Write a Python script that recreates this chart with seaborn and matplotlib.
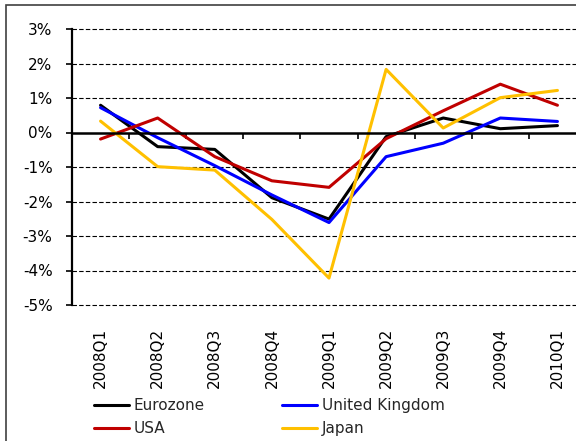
import numpy as np
import pandas as pd
import matplotlib
matplotlib.use("Agg")
import matplotlib.pyplot as plt
import seaborn as sns
from matplotlib.patches import Rectangle
from matplotlib.ticker import FuncFormatter, FixedLocator, NullFormatter

# Quarterly growth (%)
quarters = ["2008Q1", "2008Q2", "2008Q3", "2008Q4", "2009Q1",
            "2009Q2", "2009Q3", "2009Q4", "2010Q1"]
eurozone = [0.79, -0.41, -0.49, -1.89, -2.51, -0.12, 0.42, 0.11, 0.20]
uk = [0.72, -0.15, -0.96, -1.81, -2.61, -0.70, -0.31, 0.42, 0.32]
usa = [-0.19, 0.42, -0.70, -1.40, -1.59, -0.18, 0.63, 1.40, 0.79]
japan = [0.33, -0.99, -1.09, -2.52, -4.22, 1.83, 0.13, 1.01, 1.22]

series = {"Eurozone": eurozone, "United Kingdom": uk, "USA": usa, "Japan": japan}
colors = {"Eurozone": "#000000", "United Kingdom": "#0000FF",
          "USA": "#C00000", "Japan": "#FFC000"}

df = pd.DataFrame([(q, name, v) for name, vals in series.items()
                   for q, v in zip(quarters, vals)],
                  columns=["quarter", "country", "growth"])

sns.set_theme(style="white")
plt.rcParams["font.family"] = ["DejaVu Sans"]

# axis limits padded so the -5% grid line is not cut off
ymin, ymax = -5.1, 3.0
px_per_unit = (305 - 29) / 8
top_px = 29 - (ymax - 3) * px_per_unit
bot_px = 305 + (-5 - ymin) * px_per_unit

fig = plt.figure(figsize=(5.76, 4.41), dpi=100)
ax = fig.add_axes([72 / 576, 1 - bot_px / 441, (586 - 72) / 576,
                   (bot_px - top_px) / 441])

sns.lineplot(data=df, x="quarter", y="growth", hue="country",
             hue_order=list(series.keys()), palette=colors,
             sort=False, linewidth=2.2, ax=ax)

ax.set_ylim(ymin, ymax)
ax.set_xlim(-0.5, len(quarters) - 0.5)
ax.set_yticks(np.arange(-5, 4))
ax.yaxis.set_major_formatter(FuncFormatter(lambda v, p: f"{v:.0f}%"))
ax.set_xlabel("")
ax.set_ylabel("")

# dashed gridlines except at zero (bottom one drawn on top so it stays visible)
grid_levels = [-5, -4, -3, -2, -1, 1, 2, 3]
for v in grid_levels:
    ax.axhline(v, color="black", linewidth=0.8, linestyle=(0, (4, 2)),
               zorder=10 if v == -5 else 0.5, clip_on=False)

for s in ["top", "right"]:
    ax.spines[s].set_visible(False)
ax.spines["left"].set_color("black")
ax.spines["left"].set_linewidth(1.6)
ax.spines["left"].set_bounds(-5, 3)
ax.tick_params(axis="y", left=True, length=4, width=1.2, color="black",
               pad=10, labelsize=11, labelcolor="black")

# zero line carries tick marks between categories
ax.spines["bottom"].set_position(("data", 0))
ax.spines["bottom"].set_color("black")
ax.spines["bottom"].set_linewidth(1.8)
ax.xaxis.set_major_formatter(NullFormatter())
ax.tick_params(axis="x", which="major", bottom=False, length=0)
ax.xaxis.set_minor_locator(FixedLocator(np.arange(0.5, len(quarters) - 1)))
ax.tick_params(axis="x", which="minor", bottom=True, length=4, width=1.2,
               color="black", direction="out")

# category labels along the bottom
lab = ax.secondary_xaxis("bottom")
lab.set_xticks(np.arange(len(quarters)), quarters)
lab.tick_params(axis="x", length=0, pad=14, labelsize=11,
                labelcolor="black", labelrotation=90)
lab.spines["bottom"].set_visible(False)

handles, labels = ax.get_legend_handles_labels()
order = [labels.index(n) for n in ["Eurozone", "USA", "United Kingdom", "Japan"]]
ax.legend([handles[i] for i in order], [labels[i] for i in order],
          ncol=2, loc="upper left", bbox_to_anchor=(0.03, -0.30),
          frameon=False, fontsize=11, handlelength=2.3, handletextpad=0.3,
          columnspacing=5.1, labelspacing=0.5, borderaxespad=0)

fig.patches.append(Rectangle((6 / 576, -0.1), 1.2, 1.1 - 5 / 441,
                             transform=fig.transFigure, fill=False,
                             ec="#404040", lw=1.2))

fig.savefig("out.png", dpi=100)
